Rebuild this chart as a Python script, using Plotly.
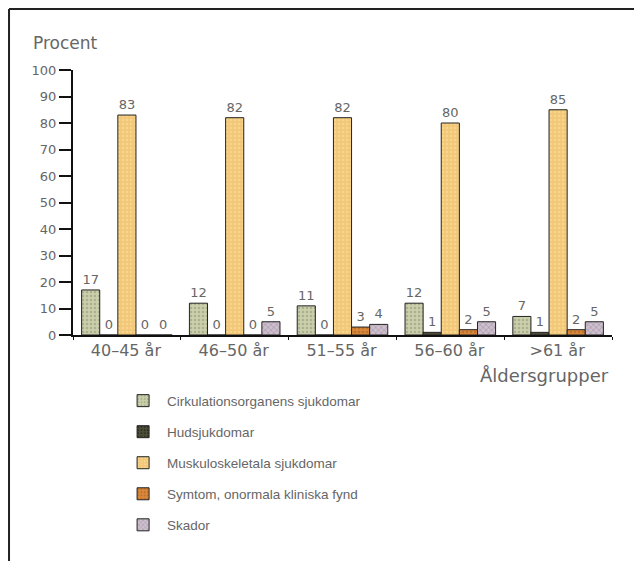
import plotly.graph_objects as go

categories = ["40–45 år", "46–50 år", "51–55 år", "56–60 år", ">61 år"]
cirkulation = [17, 12, 11, 12, 7]
hud = [0, 0, 0, 1, 1]
muskuloskeletala = [83, 82, 82, 80, 85]
symtom = [0, 0, 3, 2, 2]
skador = [0, 5, 4, 5, 5]
y_ticks = [0, 10, 20, 30, 40, 50, 60, 70, 80, 90, 100]

series = [
    ("Cirkulationsorganens sjukdomar", cirkulation, "#cbcfac", "#8d9270", "."),
    ("Hudsjukdomar", hud, "#4e4e38", "#111111", "."),
    ("Muskuloskeletala sjukdomar", muskuloskeletala, "#f2c878", "#fbe2a2", "."),
    ("Symtom, onormala kliniska fynd", symtom, "#d9873a", "#a85c1c", "."),
    ("Skador", skador, "#cdbfcd", "#8c7c8c", "x"),
]

FONT = "DejaVu Sans, sans-serif"
LFONT = "Liberation Sans, Arial, sans-serif"
GRAY = "#666666"

fig = go.Figure()
for i, (name, vals, col, fg, shp) in enumerate(series):
    fig.add_trace(go.Bar(
        name=name, x=categories, y=vals,
        legendgroup=f"g{i}",
        marker=dict(color=col, line=dict(color="#222222", width=1),
                    pattern=dict(shape=shp, fgcolor=fg, size=4, solidity=0.35)),
        text=[str(v) for v in vals], textposition="outside",
        textfont=dict(family=FONT, size=13, color=GRAY),
        cliponaxis=False,
    ))

fig.update_layout(
    width=642, height=561,
    margin=dict(l=65, r=38, t=62, b=234),
    paper_bgcolor="white", plot_bgcolor="white",
    barmode="group", bargap=0.16, bargroupgap=0,
    font=dict(family=FONT, size=13, color=GRAY),
    showlegend=True,
    legend=dict(x=0.0855, y=-0.19, xanchor="left", yanchor="top", itemwidth=38,
                tracegroupgap=10.5, font=dict(family=LFONT, size=13.5, color=GRAY),
                bgcolor="rgba(0,0,0,0)"),
    xaxis=dict(range=[-0.5, 4.5], showline=True, linecolor="#111111", linewidth=1.5,
               ticks="outside", tickson="boundaries", ticklen=3, tickcolor="#111111",
               tickfont=dict(family=FONT, size=16, color=GRAY), ticklabelshift=-1,
               showgrid=False, zeroline=False),
    yaxis=dict(range=[0, 100], tickvals=y_ticks, showline=True, linecolor="#111111",
               linewidth=2, ticks="outside", ticklen=12, tickwidth=2, tickcolor="#111111",
               tickfont=dict(family=FONT, size=13, color=GRAY),
               showgrid=False, zeroline=False),
    annotations=[
        dict(text="Procent", xref="paper", yref="paper", x=-0.078, y=1.10,
             xanchor="left", yanchor="middle", showarrow=False,
             font=dict(family=FONT, size=17, color=GRAY)),
        dict(text="Åldersgrupper", xref="paper", yref="paper", x=0.998, y=-0.151,
             xanchor="right", yanchor="middle", showarrow=False,
             font=dict(family=FONT, size=18, color=GRAY)),
    ],
    shapes=[
        dict(type="line", xref="paper", yref="paper", x0=-0.1187, x1=1.1, y0=1.2302, y1=1.2302,
             line=dict(color="#222222", width=2)),
        dict(type="line", xref="paper", yref="paper", x0=-0.1187, x1=-0.1187, y0=1.2302, y1=-0.9,
             line=dict(color="#222222", width=2)),
    ],
)

fig.write_html("out.html")
